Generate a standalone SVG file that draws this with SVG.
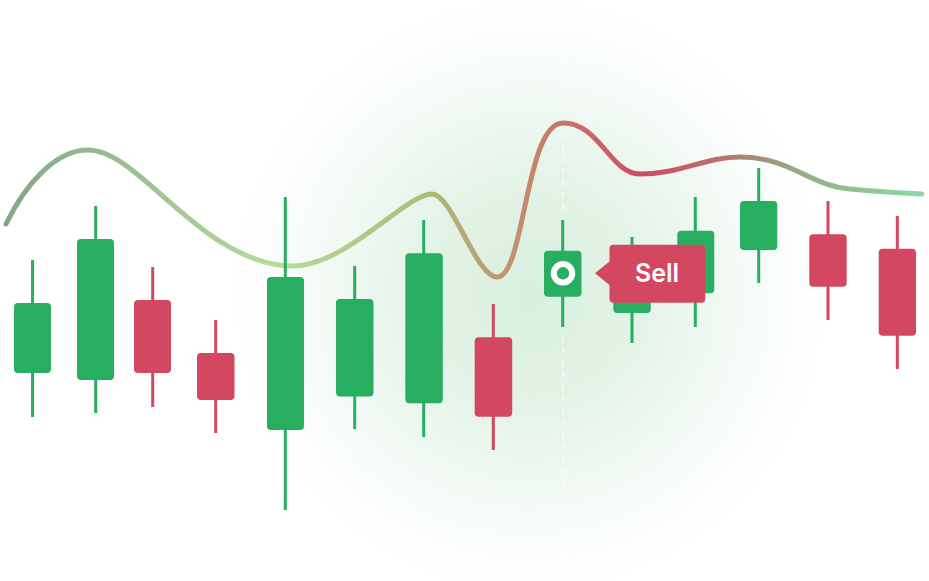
<svg xmlns="http://www.w3.org/2000/svg" width="929" height="581" viewBox="0 0 929 581">
  <defs>
    <radialGradient id="glow" cx="530" cy="295" r="300" gradientUnits="userSpaceOnUse">
      <stop offset="0" stop-color="#d8efde"/>
      <stop offset="0.35" stop-color="#e2f3e6"/>
      <stop offset="0.65" stop-color="#f1f9f3"/>
      <stop offset="0.85" stop-color="#fafdfb"/>
      <stop offset="1" stop-color="#ffffff"/>
    </radialGradient>
    <linearGradient id="curveGrad" x1="0" y1="0" x2="929" y2="0" gradientUnits="userSpaceOnUse">
      <stop offset="0" stop-color="#7fa88a"/>
      <stop offset="0.1" stop-color="#95b891"/>
      <stop offset="0.3" stop-color="#b6dc9a"/>
      <stop offset="0.46" stop-color="#abbd78"/>
      <stop offset="0.54" stop-color="#bf9870"/>
      <stop offset="0.6" stop-color="#c8786a"/>
      <stop offset="0.69" stop-color="#d24a62"/>
      <stop offset="0.78" stop-color="#b57370"/>
      <stop offset="0.86" stop-color="#96ad86"/>
      <stop offset="1" stop-color="#8cdba6"/>
    </linearGradient>
    <style>
      .g { fill: #28ae60; }
      .r { fill: #d34760; }
      .gw { stroke: #28ae60; stroke-width: 3; }
      .rw { stroke: #d34760; stroke-width: 3; }
    </style>
  </defs>
  <rect width="929" height="581" fill="#ffffff"/>
  <ellipse cx="530" cy="295" rx="300" ry="300" fill="url(#glow)"/>
  <line x1="563" y1="0" x2="563" y2="581" stroke="#ffffff" stroke-width="1.5" stroke-dasharray="6 6" opacity="0.7"/>

  <g id="connectors">
    <path id="trend-curve" d="M6,224 C25,185 55,150 88,150 C140,150 200,262 290,266 C345,268 405,194 432,194 C452,194 476,277 497,277 C525,277 525,123 563,123 C600,123 610,174 640,174 C680,174 705,157 740,157 C790,157 810,186 850,189 C880,192 900,193 922,194" fill="none" stroke="url(#curveGrad)" stroke-width="5" stroke-linecap="round"/>
  </g>

  <g id="candle1"><line class="gw" x1="32.5" y1="260" x2="32.5" y2="417"/><rect class="g" x="14" y="303" width="37" height="70" rx="4"/></g>
  <g id="candle2"><line class="gw" x1="95.7" y1="206" x2="95.7" y2="413"/><rect class="g" x="77" y="239" width="37" height="141" rx="4"/></g>
  <g id="candle3"><line class="rw" x1="152.7" y1="267" x2="152.7" y2="407"/><rect class="r" x="134" y="300" width="37" height="73" rx="4"/></g>
  <g id="candle4"><line class="rw" x1="215.7" y1="320" x2="215.7" y2="433"/><rect class="r" x="197" y="353" width="37.5" height="47" rx="4"/></g>
  <g id="candle5"><line class="gw" x1="285.3" y1="197" x2="285.3" y2="510"/><rect class="g" x="267" y="277" width="37" height="153" rx="4"/></g>
  <g id="candle6"><line class="gw" x1="354.7" y1="266" x2="354.7" y2="429"/><rect class="g" x="336" y="299" width="37.5" height="97.5" rx="4"/></g>
  <g id="candle7"><line class="gw" x1="423.7" y1="220" x2="423.7" y2="437"/><rect class="g" x="405.3" y="253.3" width="37.5" height="150" rx="4"/></g>
  <g id="candle8"><line class="rw" x1="493.3" y1="304" x2="493.3" y2="450"/><rect class="r" x="474.7" y="337.3" width="37.5" height="79.4" rx="4"/></g>
  <g id="candle9">
    <line class="gw" x1="562.7" y1="220" x2="562.7" y2="327"/>
    <rect class="g" x="544" y="250.7" width="37.5" height="46" rx="4"/>
    <circle cx="563" cy="273.3" r="9.2" fill="none" stroke="#ffffff" stroke-width="6"/>
  </g>
  <g id="candle10"><line class="gw" x1="632" y1="237" x2="632" y2="343"/><rect class="g" x="613.3" y="250" width="37.5" height="63" rx="4"/></g>
  <g id="candle11"><line class="gw" x1="695.3" y1="197" x2="695.3" y2="327"/><rect class="g" x="677.3" y="230.7" width="37" height="62.6" rx="4"/></g>
  <g id="sell-label">
    <path class="r" d="M595,273.3 L609.5,261.5 L609.5,248.5 Q609.5,244.7 613.3,244.7 L701.3,244.7 Q705.3,244.7 705.3,248.7 L705.3,298.7 Q705.3,302.7 701.3,302.7 L613.3,302.7 Q609.5,302.7 609.5,298.7 L609.5,285 Z"/>
    <text x="657" y="282" font-family="Inter, 'Liberation Sans', sans-serif" font-size="25" font-weight="600" fill="#ffffff" text-anchor="middle">Sell</text>
  </g>
  <g id="candle12"><line class="gw" x1="758.7" y1="168" x2="758.7" y2="283"/><rect class="g" x="740" y="201" width="37.3" height="49" rx="4"/></g>
  <g id="candle13"><line class="rw" x1="828" y1="201" x2="828" y2="320"/><rect class="r" x="809.3" y="234.3" width="37.4" height="52.4" rx="4"/></g>
  <g id="candle14"><line class="rw" x1="897.3" y1="216" x2="897.3" y2="369"/><rect class="r" x="878.7" y="248.7" width="37.3" height="87" rx="4"/></g>
</svg>
